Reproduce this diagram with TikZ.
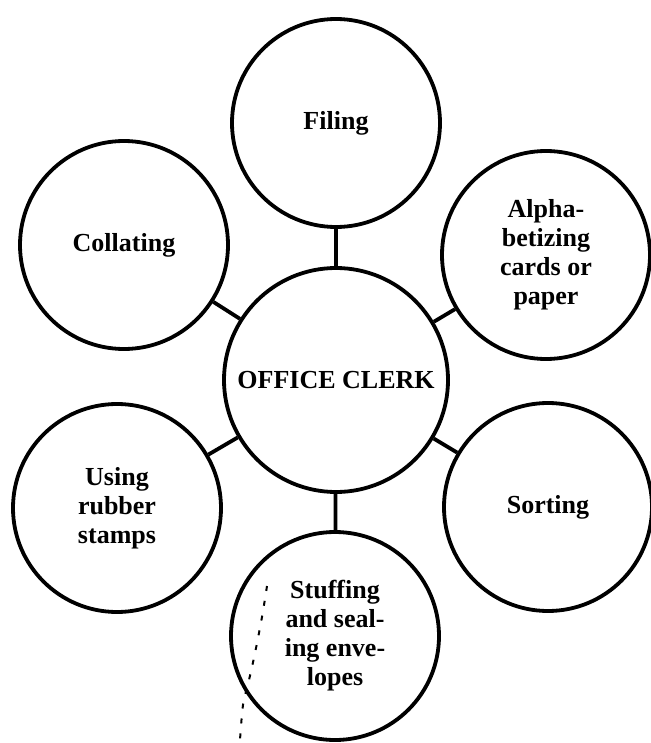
\documentclass[tikz,border=0pt]{standalone}
\usepackage{fontspec}
\setmainfont{Liberation Serif}
\begin{document}
\begin{tikzpicture}[x=1pt,y=-1pt,
  duty/.style={circle,draw,line width=3.8pt,minimum size=208pt,inner sep=0pt,
    align=center,font=\bfseries\fontsize{26}{29}\selectfont},
  hub/.style={duty,minimum size=224pt},
  link/.style={line width=3.8pt}]
  \useasboundingbox (0,0) rectangle (650,743);
  % central job and the tasks around it
  \node[hub]  (clerk) at (336,380) {OFFICE CLERK};
  \node[duty] (filing) at (336,123) {\raisebox{6pt}{Filing}};
  \node[duty] (alpha)  at (546,255) {Alpha-\\betizing\\cards or\\paper};
  \node[duty] (sort)   at (548,507) {Sorting};
  \node[duty] (stuff)  at (335,636) {Stuffing\\and seal-\\ing enve-\\lopes};
  \node[duty] (stamp)  at (117,508) {\raisebox{5pt}{\parbox{150pt}{\centering Using\\rubber\\stamps}}};
  \node[duty] (coll)   at (124,245) {Collating};
  % spokes
  \foreach \t in {filing,alpha,sort,stuff,stamp,coll}
    \draw[link] (clerk) -- (\t);
  % dotted mark beside the lower circle
  \draw[line width=2pt,dash pattern=on 5pt off 10pt]
    plot[smooth] coordinates {(267,586) (262,617) (255,653) (249,680) (243,705) (240,740)};
\end{tikzpicture}
\end{document}
